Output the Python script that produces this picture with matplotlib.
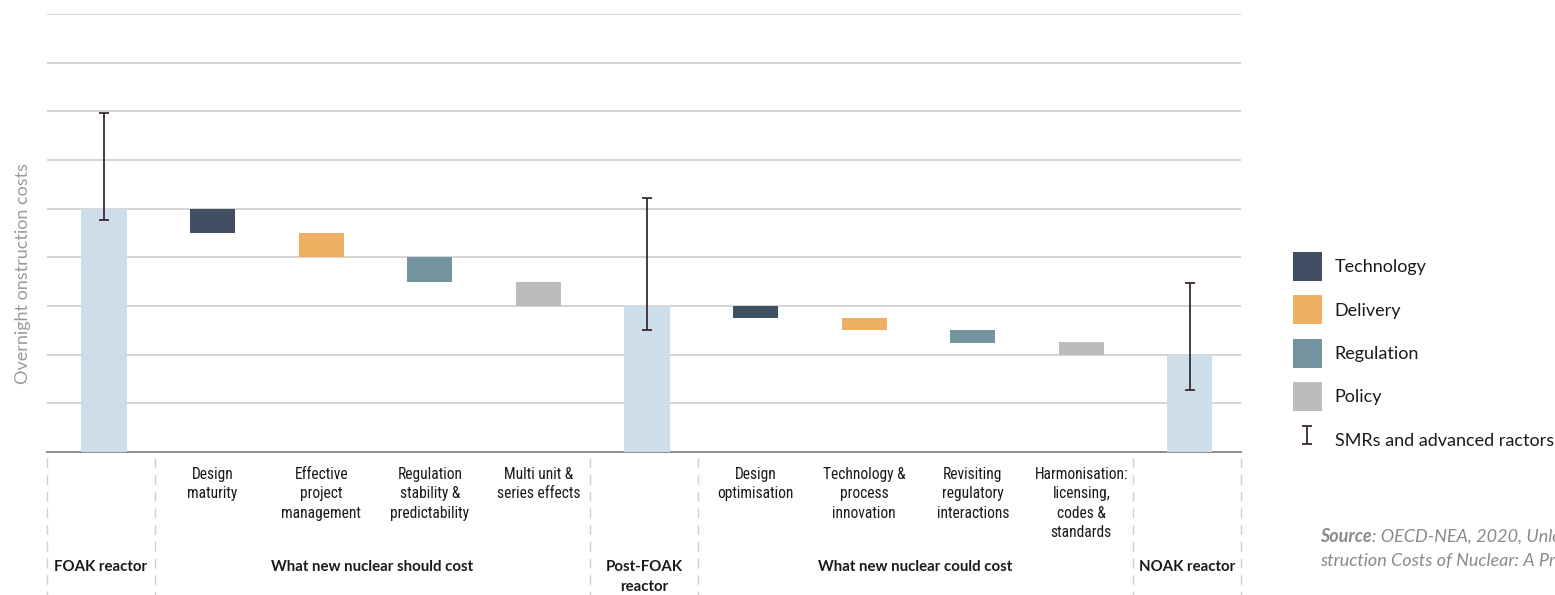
import matplotlib
matplotlib.use("Agg")
import matplotlib.pyplot as plt
import numpy as np
from matplotlib import font_manager
from matplotlib.patches import Patch
from matplotlib.text import Annotation
from matplotlib.transforms import blended_transform_factory

plt.rcParams['font.family'] = ['Lato', 'DejaVu Sans']

# narrow face for the step labels, if one is around
installed = {f.name for f in font_manager.fontManager.ttflist}
narrow = None
for cand in ['Liberation Sans Narrow', 'DejaVu Sans Condensed', 'Roboto Condensed', 'Open Sans Condensed']:
    if cand in installed:
        narrow = cand
        break

# waterfall steps, left to right
step_labels = ["", "Design\nmaturity", "Effective\nproject\nmanagement",
               "Regulation\nstability &\npredictability", "Multi unit &\nseries effects",
               "", "Design\noptimisation", "Technology &\nprocess\ninnovation",
               "Revisiting\nregulatory\ninteractions", "Harmonisation:\nlicensing,\ncodes &\nstandards",
               ""]
step_kind = ["total", "Technology", "Delivery", "Regulation", "Policy",
             "total", "Technology", "Delivery", "Regulation", "Policy", "total"]
step_values = [5.0, -0.5, -0.5, -0.5, -0.5, 3.0, -0.25, -0.25, -0.25, -0.25, 2.0]

# SMR / advanced reactor ranges on the total bars
range_low = [4.77, 2.5, 1.27]
range_high = [6.96, 5.22, 3.47]

group_labels = ["FOAK reactor", "What new nuclear should cost", "Post-FOAK\nreactor",
                "What new nuclear could cost", "NOAK reactor"]
group_edges = [-0.525, 0.47, 4.475, 5.47, 9.475, 10.47]

colours = {"total": "#cddeea", "Technology": "#404f62", "Delivery": "#f0b064",
           "Regulation": "#74959f", "Policy": "#bbbcbb"}
legend_names = ["Technology", "Delivery", "Regulation", "Policy"]

fig = plt.figure(figsize=(15.55, 5.95), dpi=100)
ax = fig.add_axes([47/1555, 1 - 452/595, (1241-47)/1555, (452-14)/595])

x = np.arange(len(step_values))
bottoms = []
tops = []
level = 0.0
for kind, v in zip(step_kind, step_values):
    if kind == "total":
        level = v
        bottoms.append(0.0)
        tops.append(v)
    else:
        bottoms.append(level + v)
        tops.append(level)
        level = level + v
bottoms = np.array(bottoms)
heights = np.array(tops) - bottoms

ax.bar(x, heights, bottom=bottoms, width=0.415,
       color=[colours[k] for k in step_kind], zorder=3)

total_x = [i for i, k in enumerate(step_kind) if k == "total"]
mid = (np.array(range_low) + np.array(range_high)) / 2
err = (np.array(range_high) - np.array(range_low)) / 2
eb = ax.errorbar(total_x, mid, yerr=err, fmt='none', ecolor='#3a2b2b',
                 elinewidth=1.3, capsize=3.8, capthick=1.3, zorder=4)

ax.set_xlim(group_edges[0], group_edges[-1])
ax.set_ylim(0, 9)
ax.set_yticks(np.arange(1, 10))
ax.yaxis.grid(True, color='#c9c9c9', linewidth=1.1)
ax.set_axisbelow(True)
ax.tick_params(left=False, bottom=False, labelleft=False, labelbottom=False)
for s in ['top', 'right', 'left']:
    ax.spines[s].set_visible(False)
ax.spines['bottom'].set_color('#8c8c8c')
ax.spines['bottom'].set_linewidth(1.4)

trans = blended_transform_factory(ax.transData, ax.transAxes)
if narrow:
    step_font = dict(family=[narrow, 'DejaVu Sans'], fontsize=11.2)
else:
    step_font = dict(fontsize=10.2)
for xi, lab in zip(x, step_labels):
    if lab:
        ax.text(xi, (452-467)/438, lab, transform=trans, ha='center', va='top',
                color='#1a1a1a', linespacing=1.36, **step_font)

for e in group_edges:
    ax.plot([e, e], [-0.014, -0.33], transform=trans, color='#cfcfcf',
            linewidth=1.0, linestyle=(0, (7, 5)), clip_on=False)

for i, lab in enumerate(group_labels):
    cx = (group_edges[i] + group_edges[i+1]) / 2
    ax.text(cx, (452-560)/438, lab, transform=trans, ha='center', va='top',
            fontsize=10.8, fontweight='bold', color='#1a1a1a', linespacing=1.55)

fig.text(23/1555, 1 - 274/595, "Overnight onstruction costs", rotation=90,
         ha='center', va='center', fontsize=13, color='#9a9a9a')

handles = [Patch(facecolor=colours[n], edgecolor='none') for n in legend_names] + [eb]
labels = legend_names + ["SMRs and advanced ractors"]
fig.legend(handles, labels, loc='upper left', bbox_to_anchor=(1293/1555, 1 - 252/595),
           frameon=False, fontsize=13, borderpad=0, borderaxespad=0,
           handlelength=1.6, handleheight=2.1, labelspacing=0.79, handletextpad=0.7,
           labelcolor='#1a1a1a')

src = fig.text(1320/1555, 1 - 537/595, "Source", fontsize=13, fontweight='bold',
               style='italic', color='#8a8a8a', va='center')
fig.add_artist(Annotation(": OECD-NEA, 2020, Unlocking Reductions in the Con-",
                          xy=(1, 0.5), xycoords=src, va='center', ha='left',
                          fontsize=13, style='italic', color='#8a8a8a'))
fig.text(1320/1555, 1 - 561/595, "struction Costs of Nuclear: A Practical Guide",
         fontsize=13, style='italic', color='#8a8a8a', va='center')

fig.savefig("out.png", dpi=100)
